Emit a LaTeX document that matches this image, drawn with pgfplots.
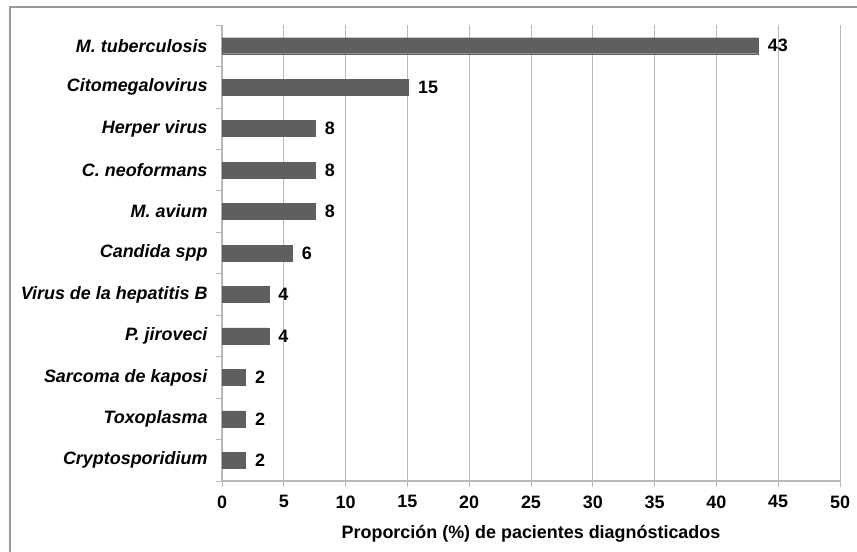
\documentclass[border=0pt]{standalone}
\usepackage{pgfplots}
\pgfplotsset{compat=1.18}
\usepackage{pgfplotstable}
\usepackage{fontspec}
\setmainfont{Liberation Sans}

\definecolor{barfill}{HTML}{5F5F5F}
\definecolor{axisgray}{HTML}{B8B8B8}
\definecolor{framegray}{HTML}{9A9A9A}

% Proportion of diagnosed patients per opportunistic agent (%)
\pgfplotstableread[col sep=comma]{
idx,value
0,43.4
1,15.1
2,7.55
3,7.55
4,7.55
5,5.7
6,3.8
7,3.8
8,1.9
9,1.9
10,1.9
}\agents

\newcommand{\chartfont}{\fontsize{18}{21}\selectfont\bfseries}

\begin{document}
\begin{tikzpicture}
\begin{axis}[
  scale only axis,
  width=618bp, height=456bp,
  xbar, bar width=16bp,
  xmin=0, xmax=50,
  ymin=-0.5, ymax=10.5,
  y dir=reverse,
  xtick distance=5,
  ytick={0,...,10},
  yticklabels={M. tuberculosis, Citomegalovirus, Herper virus, C. neoformans, M. avium, Candida spp, Virus de la hepatitis B, P. jiroveci, Sarcoma de kaposi, Toxoplasma, Cryptosporidium},
  minor ytick={-0.5,0.5,...,10.5},
  major y tick style={draw=none},
  minor y tick style={axisgray, line width=0.8bp},
  minor tick length=6bp,
  major x tick style={axisgray, line width=0.8bp},
  major tick length=6bp,
  tick align=outside,
  axis x line*=bottom,
  axis y line*=left,
  axis line style={axisgray, line width=1.5bp},
  xmajorgrids,
  grid style={axisgray, line width=0.9bp},
  /pgf/number format/assume math mode=true,
  ticklabel style={font=\chartfont},
  yticklabel style={font=\chartfont\itshape, xshift=-5bp},
  xticklabel style={yshift=-5bp},
  xlabel={Proporción (\%) de pacientes diagnósticados},
  xlabel style={font=\chartfont, yshift=-10bp},
  nodes near coords={\pgfmathprintnumber[fixed,precision=0]{\pgfplotspointmeta}},
  nodes near coords style={font=\chartfont, anchor=west, xshift=6bp, text=black},
  point meta=explicit,
]
\addplot[fill=barfill, draw=barfill] table[x=value, y=idx, meta=value] {\agents};
\end{axis}
\draw[framegray, line width=1.2bp]
  ([xshift=-212bp,yshift=-71bp]current axis.south west)
  |- ([xshift=17bp,yshift=18bp]current axis.north east);
\pgfresetboundingbox
\path ([xshift=-222bp,yshift=-71bp]current axis.south west)
  rectangle ([xshift=17bp,yshift=25bp]current axis.north east);
\end{tikzpicture}
\end{document}
